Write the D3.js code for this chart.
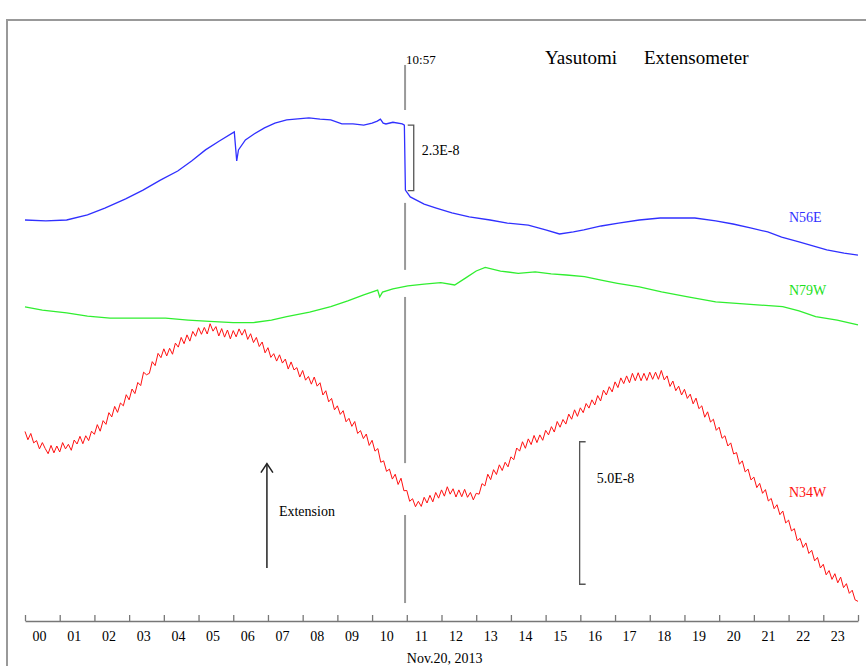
<!DOCTYPE html>
<html>
<head>
<meta charset="utf-8">
<script src="https://cdn.jsdelivr.net/npm/d3@7"></script>
<style>
  body { margin: 0; background: #fff; }
  svg { display: block; font-family: "Liberation Serif", "Times New Roman", serif; }
</style>
</head>
<body>
<svg id="chart" width="866" height="666"></svg>
<script>
// hours on the x axis, strain in units of 1E-9 (each trace has its own offset)
const hourLabels = ["00","01","02","03","04","05","06","07","08","09","10","11",
                    "12","13","14","15","16","17","18","19","20","21","22","23"];

// N56E [hour, value]
const n56e = [
  [0,140.7],[0.6,140.4],[1.2,140.7],[1.8,142.5],[2.3,144.9],[2.9,148.1],[3.4,151.2],
  [3.9,154.7],[4.4,157.9],[4.8,161.4],[5.2,165.3],[5.6,168.4],[6.03,171.6],[6.1,161.4],
  [6.15,165.3],[6.35,168.8],[6.6,170.9],[6.9,173],[7.2,174.7],[7.54,175.8],[8.18,176.5],
  [8.5,176.1],[8.81,175.8],[9.13,174.4],[9.45,174.4],[9.76,174],[10.0,174.7],[10.15,175.4],
  [10.24,176.1],[10.32,174.7],[10.4,174.4],[10.6,175],[10.87,174.4],[10.93,174],
  [10.96,151.2],[11.1,148.8],[11.5,146.3],[11.85,144.9],[12.3,143.2],[12.8,141.8],
  [13.4,140.7],[13.9,139.6],[14.5,138.9],[15.0,137.2],[15.4,135.8],[15.8,136.5],
  [16.1,137.2],[16.6,138.6],[17.1,139.6],[17.7,140.7],[18.3,141.4],[18.8,141.4],
  [19.3,141.4],[19.9,140.4],[20.4,139.3],[20.9,137.9],[21.4,136.5],[21.8,134.7],
  [22.3,133],[22.7,131.6],[23.1,130.2],[23.6,129.1],[24.0,128.4]
];

// N79W [hour, value]
const n79w = [
  [0,110.2],[0.5,109.1],[1.2,108.1],[1.8,107],[2.45,106.3],[3.2,106.3],[4.05,106.3],
  [4.7,105.6],[5.32,105.1],[6.0,104.7],[6.58,104.7],[7.1,105.6],[7.54,106.8],[8.2,108.4],
  [8.81,110.3],[9.3,112.3],[9.76,114.4],[10.16,116.1],[10.22,113.7],[10.3,115.4],
  [10.6,116.5],[11.03,117.6],[11.5,118.2],[11.98,118.7],[12.38,117.9],[12.7,120.4],
  [13.0,122.8],[13.26,124.1],[13.7,122.8],[14.21,122],[14.7,122.5],[15.16,121.8],
  [15.6,121.4],[16.12,120.8],[16.6,119.6],[17.07,118.5],[17.7,117.2],[18.34,115.5],
  [19.1,113.7],[19.9,112],[20.8,111.2],[21.83,110.3],[22.3,108.8],[22.78,106.8],
  [23.4,105.6],[24,103.9]
];

// N34W, one value every 5 minutes from 00:00 (one row per hour)
const n34w = [
  66.5,63.6,65.8,62.5,63.3,60.4,62.6,60.5,58.7,61.6,59.0,61.4,
  59.3,62.6,60.4,62.0,59.9,63.5,62.1,64.8,62.2,65.0,63.3,66.6,
  65.5,68.9,66.6,70.3,69.0,73.1,71.6,75.3,73.2,76.5,75.5,79.4,
  77.6,81.4,79.8,83.7,82.6,87.3,86.4,86.9,91.0,89.6,93.9,92.4,
  95.5,93.0,95.7,93.6,97.5,96.1,99.5,97.3,100.4,98.2,101.6,99.9,
  102.9,100.6,103.0,100.7,104.3,101.7,103.3,100.0,102.6,99.6,102.1,99.0,
  101.9,99.7,102.5,100.3,102.3,98.8,100.8,97.7,99.5,96.3,97.9,94.1,
  95.9,92.5,93.8,91.2,93.4,90.5,91.9,88.4,90.9,88.1,88.9,85.6,
  87.9,84.5,85.8,83.1,85.6,82.4,83.6,79.3,80.8,76.9,78.1,74.1,
  75.5,72.5,73.8,69.9,71.1,68.3,70.0,65.8,66.8,64.0,65.6,61.6,
  63.4,59.6,60.5,55.7,56.2,52.5,53.3,49.8,51.5,47.9,50.1,45.7,
  45.8,42.0,42.9,40.1,42.0,40.2,43.4,41.4,44.1,41.8,45.1,43.1,
  46.0,43.8,47.1,44.5,46.4,43.5,46.0,43.6,46.2,43.4,45.1,42.5,
  44.8,44.5,48.2,47.4,51.5,49.6,53.1,51.4,54.8,52.8,55.7,54.1,
  57.6,56.6,60.7,59.6,62.9,60.6,63.9,61.9,65.1,62.6,65.3,63.4,
  66.9,65.3,68.2,66.3,70.0,68.0,70.7,69.1,72.6,70.8,74.1,71.8,
  74.8,73.1,76.3,74.7,77.6,75.8,79.1,77.2,81.0,79.3,82.2,80.4,
  83.9,81.9,85.3,83.3,86.0,83.6,86.9,84.3,87.1,84.3,86.9,84.4,
  87.3,84.8,87.3,84.8,87.9,84.6,86.0,82.3,84.2,80.8,82.4,79.3,
  81.3,78.1,79.6,76.2,78.2,74.5,75.5,71.5,73.4,69.8,70.8,66.9,
  68.0,64.1,65.0,61.4,62.5,58.6,59.1,55.0,56.2,52.3,53.3,49.5,
  50.5,46.8,48.3,44.8,46.1,42.1,43.0,39.4,40.8,37.3,38.6,34.4,
  35.4,31.6,32.4,28.2,29.0,25.8,27.4,23.7,24.8,21.1,22.3,18.6,
  19.9,16.2,17.7,14.6,16.6,13.4,15.4,11.7,13.1,9.7,10.8,7.4,
  6.9
];

// event time (10:57) and where its marker line is visible (value ranges)
const eventHour = 10.95;
const eventSegments = [[195.1, 179.3], [146.7, 123.2], [113.7, 55.4], [37.2, 6.3]];

// scale bars: [hour, top value, size]
const scaleN56E = [11.2, 174, 23];
const scaleN34W = [15.98, 62.9, 50];

const svg = d3.select("#chart");
const x = d3.scaleLinear().domain([0, 24]).range([25, 858]);
const y = d3.scaleLinear().domain([0, 200]).range([621, 51]);

// outer frame (only top and left edges show)
svg.append("path")
   .attr("d", "M7,666V20H866")
   .attr("fill", "none")
   .attr("stroke", "#999")
   .attr("stroke-width", 2);

// time axis, ticks pointing up
const axis = svg.append("g")
   .attr("transform", "translate(0," + y(0) + ")")
   .call(d3.axisTop(x).tickValues(d3.range(0, 25)).tickSize(6).tickSizeOuter(0).tickFormat(""));
axis.select(".domain").attr("stroke", "#777").attr("stroke-width", 1.5);
axis.selectAll(".tick line").attr("stroke", "#777").attr("stroke-width", 1.3);

svg.selectAll(".hour-label")
   .data(hourLabels)
   .enter()
   .append("text")
   .attr("class", "hour-label")
   .attr("x", (d, i) => x(i + 0.42))
   .attr("y", 641)
   .attr("text-anchor", "middle")
   .attr("font-size", 14)
   .text(d => d);

svg.append("text")
   .attr("x", x(11))
   .attr("y", 663)
   .attr("font-size", 14)
   .text("Nov.20, 2013");

// 10:57 marker
svg.selectAll(".event-seg")
   .data(eventSegments)
   .enter()
   .append("line")
   .attr("x1", x(eventHour)).attr("x2", x(eventHour))
   .attr("y1", d => y(d[0])).attr("y2", d => y(d[1]))
   .attr("stroke", "#999")
   .attr("stroke-width", 2);

svg.append("text")
   .attr("x", x(eventHour) + 1)
   .attr("y", 64)
   .attr("font-size", 13)
   .text("10:57");

svg.append("text").attr("x", 545).attr("y", 64).attr("font-size", 19).text("Yasutomi");
svg.append("text").attr("x", 644).attr("y", 64).attr("font-size", 19).text("Extensometer");

// traces
const line = d3.line().x(d => x(d[0])).y(d => y(d[1]));

svg.append("path")
   .datum(n56e)
   .attr("d", line)
   .attr("fill", "none")
   .attr("stroke", "#3030ff")
   .attr("stroke-width", 1.3);

svg.append("path")
   .datum(n79w)
   .attr("d", line)
   .attr("fill", "none")
   .attr("stroke", "#30ee30")
   .attr("stroke-width", 1.3);

svg.append("path")
   .datum(n34w.map((v, i) => [i / 12, v]))
   .attr("d", line)
   .attr("fill", "none")
   .attr("stroke", "#ff1010")
   .attr("stroke-width", 1);

// trace names
const names = [
  {name: "N56E", color: "#3030ff", value: 140},
  {name: "N79W", color: "#20e020", value: 114.5},
  {name: "N34W", color: "#ff1010", value: 43.5}
];
svg.selectAll(".trace-name")
   .data(names)
   .enter()
   .append("text")
   .attr("class", "trace-name")
   .attr("x", 789)
   .attr("y", d => y(d.value))
   .attr("font-size", 14)
   .attr("fill", d => d.color)
   .text(d => d.name);

// scale brackets
function bracket(s, dir, label, labelDx) {
  const bx = x(s[0]);
  const top = y(s[1]);
  const bottom = y(s[1] - s[2]);
  svg.append("path")
     .attr("d", "M" + (bx + dir * 6) + "," + top + "H" + bx + "V" + bottom + "H" + (bx + dir * 6))
     .attr("fill", "none")
     .attr("stroke", "#555")
     .attr("stroke-width", 1.3);
  return svg.append("text")
     .attr("x", bx + labelDx)
     .attr("font-size", 14)
     .text(label);
}
bracket(scaleN56E, -1, "2.3E-8", 8).attr("y", y(scaleN56E[1]) + 30);
bracket(scaleN34W, 1, "5.0E-8", 17).attr("y", y(scaleN34W[1]) + 41);

// extension arrow
const ax = x(6.97);
svg.append("line")
   .attr("x1", ax).attr("x2", ax)
   .attr("y1", y(18.6)).attr("y2", y(55.2))
   .attr("stroke", "#222")
   .attr("stroke-width", 1.5);
svg.append("path")
   .attr("d", "M" + (ax - 6) + "," + (y(55.2) + 9) + "L" + ax + "," + y(55.2) + "L" + (ax + 6) + "," + (y(55.2) + 9))
   .attr("fill", "none")
   .attr("stroke", "#222")
   .attr("stroke-width", 1.5);
svg.append("text")
   .attr("x", ax + 12)
   .attr("y", 516)
   .attr("font-size", 14)
   .text("Extension");
</script>
</body>
</html>
